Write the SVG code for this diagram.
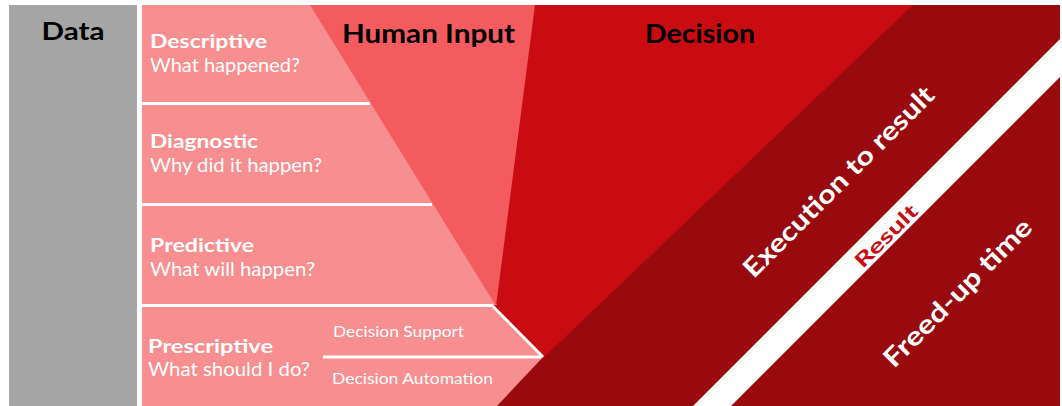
<svg xmlns="http://www.w3.org/2000/svg" width="1062" height="406" viewBox="0 0 1062 406">
  <style>
    .h { font-family: Lato, "Liberation Sans", sans-serif; font-weight: bold; fill: #000; }
    .t { font-family: Lato, "Liberation Sans", sans-serif; font-weight: bold; fill: #fff; font-size: 19px; }
    .s { font-family: Lato, "Liberation Sans", sans-serif; fill: #fff; font-size: 19px; }
    .ss { font-family: Lato, "Liberation Sans", sans-serif; fill: #fff; font-size: 15px; }
    .div { stroke: #fff; stroke-width: 3; fill: none; }
    .r { font-family: Lato, "Liberation Sans", sans-serif; font-weight: bold; }
  </style>
  <rect width="1062" height="406" fill="#fff"/>
  <g id="decision-area">
    <rect x="480" y="5" width="580" height="401" fill="#990A0E"/>
    <polygon points="480,5 913,5 493,406 480,406" fill="#C80C11"/>
  </g>
  <g id="data">
    <rect x="9" y="5" width="128" height="401" fill="#A6A6A6"/>
    <text class="h" x="73" y="40" font-size="25" text-anchor="middle" textLength="63" lengthAdjust="spacingAndGlyphs">Data</text>
  </g>
  <g id="analytics">
    <polygon points="142,5 312,5 497,305 142,305" fill="#F78E8F"/>
    <polygon points="142,307 492,307 543,357 497,406 142,406" fill="#F78E8F"/>
  </g>
  <g id="human-input">
    <polygon points="310,5 535,5 496,306" fill="#F45B5E"/>
    <text class="h" x="342" y="43" font-size="27" textLength="173" lengthAdjust="spacingAndGlyphs">Human Input</text>
  </g>
  <g id="connectors">
    <line class="div" x1="142" y1="103.5" x2="370" y2="103.5"/>
    <line class="div" x1="142" y1="204.5" x2="432" y2="204.5"/>
    <polyline class="div" points="142,305.5 492,305.5 543,357"/>
    <line class="div" x1="323" y1="357" x2="541" y2="357"/>
  </g>
  <g id="descriptive">
    <text class="t" x="150" y="48" textLength="117" lengthAdjust="spacingAndGlyphs">Descriptive</text>
    <text class="s" x="150" y="72" textLength="150" lengthAdjust="spacingAndGlyphs">What happened?</text>
  </g>
  <g id="diagnostic">
    <text class="t" x="150" y="148" textLength="108" lengthAdjust="spacingAndGlyphs">Diagnostic</text>
    <text class="s" x="150" y="172" textLength="172" lengthAdjust="spacingAndGlyphs">Why did it happen?</text>
  </g>
  <g id="predictive">
    <text class="t" x="150" y="252" textLength="104" lengthAdjust="spacingAndGlyphs">Predictive</text>
    <text class="s" x="150" y="276" textLength="165" lengthAdjust="spacingAndGlyphs">What will happen?</text>
  </g>
  <g id="prescriptive">
    <text class="t" x="148" y="353" textLength="125" lengthAdjust="spacingAndGlyphs">Prescriptive</text>
    <text class="s" x="148" y="376" textLength="162" lengthAdjust="spacingAndGlyphs">What should I do?</text>
    <text class="ss" x="333" y="337" textLength="131" lengthAdjust="spacingAndGlyphs">Decision Support</text>
    <text class="ss" x="332" y="384" textLength="161" lengthAdjust="spacingAndGlyphs">Decision Automation</text>
  </g>
  <g id="decision">
    <text class="h" x="645" y="43" font-size="27" textLength="110" lengthAdjust="spacingAndGlyphs">Decision</text>
  </g>
  <g id="result-stripe">
    <polygon points="693,406 731,406 1060,77 1060,39" fill="#fff"/>
    <text class="r" fill="#C80C11" font-size="20" text-anchor="middle" transform="translate(891,241) rotate(-45)" textLength="80" lengthAdjust="spacingAndGlyphs">Result</text>
  </g>
  <g id="execution">
    <text class="r" fill="#fff" font-size="26" text-anchor="middle" transform="translate(845,188) rotate(-45)" textLength="258" lengthAdjust="spacingAndGlyphs">Execution to result</text>
  </g>
  <g id="freed-up">
    <text class="r" fill="#fff" font-size="26" text-anchor="middle" transform="translate(964,299) rotate(-45)" textLength="198" lengthAdjust="spacingAndGlyphs">Freed-up time</text>
  </g>
</svg>
